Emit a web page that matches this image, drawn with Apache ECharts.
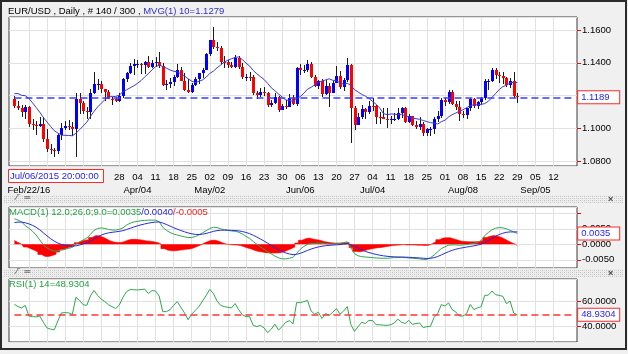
<!DOCTYPE html>
<html>
<head>
<meta charset="utf-8">
<script src="https://cdn.jsdelivr.net/npm/echarts@6/dist/echarts.min.js"></script>
<style>
html,body{margin:0;padding:0;background:#ffffff;}
#chart{width:628px;height:354px;}
</style>
</head>
<body>
<div id="chart"></div>
<script>
// ---------- categories (trading days, MM/DD 2016) ----------
const categories = [
'02/15','02/16','02/17','02/18','02/19','02/22','02/23','02/24','02/25','02/26',
'02/29','03/01','03/02','03/03','03/04','03/07','03/08','03/09','03/10','03/11',
'03/14','03/15','03/16','03/17','03/18','03/21','03/22','03/23','03/24','03/25',
'03/28','03/29','03/30','03/31','04/01','04/04','04/05','04/06','04/07','04/08',
'04/11','04/12','04/13','04/14','04/15','04/18','04/19','04/20','04/21','04/22',
'04/25','04/26','04/27','04/28','04/29','05/02','05/03','05/04','05/05','05/06',
'05/09','05/10','05/11','05/12','05/13','05/16','05/17','05/18','05/19','05/20',
'05/23','05/24','05/25','05/26','05/27','05/30','05/31','06/01','06/02','06/03',
'06/06','06/07','06/08','06/09','06/10','06/13','06/14','06/15','06/16','06/17',
'06/20','06/21','06/22','06/23','06/24','06/27','06/28','06/29','06/30','07/01',
'07/04','07/05','07/06','07/07','07/08','07/11','07/12','07/13','07/14','07/15',
'07/18','07/19','07/20','07/21','07/22','07/25','07/26','07/27','07/28','07/29',
'08/01','08/02','08/03','08/04','08/05','08/08','08/09','08/10','08/11','08/12',
'08/15','08/16','08/17','08/18','08/19','08/22','08/23','08/24','08/25','08/26',
'08/29','08/30','08/31','09/01','09/02','09/05','09/06','09/07','09/08','09/09',
'09/12','09/13','09/14','09/15','09/16','09/19','09/20'];
const firstBar = '02/16';

// ---------- tick labels ----------
const gridLineDates = ['02/22','02/29','03/07','03/14','03/21','03/28','04/04','04/11','04/18','04/25',
'05/02','05/09','05/16','05/23','05/30','06/06','06/13','06/20','06/27','07/04','07/11','07/18',
'07/25','08/01','08/08','08/15','08/22','08/29','09/05','09/12'];
const dayTickDates = ['03/28','04/04','04/11','04/18','04/25','05/02','05/09','05/16','05/23','05/30',
'06/06','06/13','06/20','06/27','07/04','07/11','07/18','07/25','08/01','08/08','08/15','08/22',
'08/29','09/05','09/12'];
const monthTickDates = ['02/22','04/04','05/02','06/06','07/04','08/08','09/05'];
const monthTickText  = ['Feb/22/16','Apr/04','May/02','Jun/06','Jul/04','Aug/08','Sep/05'];

// ---------- EUR/USD daily OHLC ----------
const open = [
1.1180,1.1135,1.1123,1.1100,1.1130,1.1025,1.1017,1.1013,1.1025,1.0934,
1.0873,1.0869,1.0863,1.0956,1.1004,1.1012,1.1006,1.0995,1.1178,1.1152,
1.1106,1.1098,1.1215,1.1268,1.1270,1.1240,1.1219,1.1181,1.1178,1.1166,
1.1198,1.1298,1.1336,1.1379,1.1390,1.1391,1.1388,1.1405,1.1374,1.1397,
1.1405,1.1383,1.1265,1.1268,1.1285,1.1313,1.1355,1.1288,1.1231,1.1224,
1.1264,1.1299,1.1340,1.1354,1.1453,1.1537,1.1495,1.1490,1.1405,1.1404,
1.1385,1.1377,1.1428,1.1372,1.1310,1.1316,1.1315,1.1216,1.1204,1.1224,
1.1214,1.1141,1.1157,1.1192,1.1114,1.1134,1.1130,1.1186,1.1151,1.1367,
1.1356,1.1357,1.1394,1.1315,1.1255,1.1288,1.1211,1.1259,1.1218,1.1277,
1.1317,1.1249,1.1292,1.1385,1.1125,1.1022,1.1068,1.1118,1.1102,1.1138,
1.1136,1.1069,1.1067,1.1058,1.1051,1.1058,1.1059,1.1092,1.1124,1.1039,
1.1072,1.1021,1.1007,1.1026,1.0974,1.0993,1.0996,1.1059,1.1075,1.1174,
1.1160,1.1223,1.1150,1.1127,1.1086,1.1083,1.1123,1.1178,1.1136,1.1161,
1.1182,1.1287,1.1290,1.1354,1.1324,1.1321,1.1306,1.1262,1.1286,1.1198];
const high = [
1.1195,1.1166,1.1143,1.1140,1.1135,1.1055,1.1045,1.1068,1.1071,1.0994,
1.0904,1.0882,1.0965,1.1031,1.1047,1.1048,1.1039,1.1218,1.1217,1.1166,
1.1131,1.1241,1.1342,1.1299,1.1288,1.1242,1.1232,1.1188,1.1190,1.1213,
1.1305,1.1344,1.1400,1.1422,1.1418,1.1397,1.1409,1.1439,1.1414,1.1438,
1.1465,1.1396,1.1296,1.1306,1.1325,1.1392,1.1375,1.1339,1.1299,1.1275,
1.1314,1.1340,1.1371,1.1458,1.1540,1.1616,1.1525,1.1500,1.1444,1.1415,
1.1405,1.1445,1.1440,1.1399,1.1330,1.1346,1.1326,1.1229,1.1243,1.1249,
1.1224,1.1175,1.1217,1.1200,1.1147,1.1171,1.1209,1.1202,1.1373,1.1395,
1.1385,1.1416,1.1404,1.1328,1.1297,1.1298,1.1297,1.1274,1.1287,1.1378,
1.1347,1.1305,1.1427,1.1390,1.1133,1.1091,1.1143,1.1125,1.1165,1.1185,
1.1140,1.1100,1.1121,1.1121,1.1073,1.1093,1.1121,1.1132,1.1132,1.1085,
1.1074,1.1043,1.1066,1.1039,1.1001,1.1009,1.1068,1.1103,1.1187,1.1187,
1.1236,1.1234,1.1166,1.1165,1.1107,1.1124,1.1186,1.1185,1.1167,1.1191,
1.1300,1.1303,1.1366,1.1368,1.1342,1.1341,1.1313,1.1305,1.1342,1.1215];
const low = [
1.1122,1.1110,1.1070,1.1058,1.1007,1.0988,1.0960,1.1005,1.0916,1.0858,
1.0841,1.0823,1.0844,1.0927,1.0991,1.0990,1.0953,1.0822,1.1084,1.1086,
1.1057,1.1057,1.1212,1.1233,1.1218,1.1166,1.1177,1.1144,1.1160,1.1160,
1.1183,1.1280,1.1329,1.1328,1.1370,1.1330,1.1334,1.1365,1.1370,1.1373,
1.1370,1.1255,1.1234,1.1246,1.1255,1.1304,1.1286,1.1230,1.1216,1.1216,
1.1255,1.1270,1.1306,1.1353,1.1440,1.1485,1.1470,1.1395,1.1365,1.1370,
1.1367,1.1368,1.1363,1.1302,1.1290,1.1290,1.1205,1.1180,1.1193,1.1200,
1.1128,1.1130,1.1147,1.1097,1.1109,1.1117,1.1130,1.1139,1.1133,1.1326,
1.1340,1.1345,1.1304,1.1250,1.1238,1.1191,1.1202,1.1131,1.1215,1.1276,
1.1242,1.1230,1.1280,1.0912,1.0988,1.1018,1.1055,1.1058,1.1086,1.1107,
1.1028,1.1029,1.1054,1.1000,1.1025,1.1045,1.1052,1.1060,1.1031,1.1034,
1.1012,1.0996,1.0991,1.0952,1.0954,1.0952,1.0962,1.1041,1.1064,1.1138,
1.1148,1.1142,1.1110,1.1045,1.1061,1.1058,1.1106,1.1124,1.1116,1.1151,
1.1172,1.1234,1.1283,1.1303,1.1278,1.1271,1.1251,1.1247,1.1186,1.1152];
const close = [
1.1135,1.1123,1.1100,1.1130,1.1025,1.1017,1.1013,1.1025,1.0934,1.0873,
1.0869,1.0863,1.0956,1.1004,1.1012,1.1006,1.0995,1.1178,1.1152,1.1106,
1.1098,1.1215,1.1268,1.1270,1.1240,1.1219,1.1181,1.1178,1.1166,1.1198,
1.1298,1.1336,1.1379,1.1390,1.1391,1.1388,1.1405,1.1374,1.1397,1.1405,
1.1383,1.1265,1.1268,1.1285,1.1313,1.1355,1.1288,1.1231,1.1224,1.1264,
1.1299,1.1340,1.1354,1.1453,1.1537,1.1495,1.1490,1.1405,1.1404,1.1385,
1.1377,1.1428,1.1372,1.1310,1.1316,1.1315,1.1216,1.1204,1.1224,1.1214,
1.1141,1.1157,1.1192,1.1114,1.1134,1.1130,1.1186,1.1151,1.1367,1.1356,
1.1357,1.1394,1.1315,1.1255,1.1288,1.1211,1.1259,1.1218,1.1277,1.1317,
1.1249,1.1292,1.1385,1.1125,1.1022,1.1068,1.1118,1.1102,1.1138,1.1136,
1.1069,1.1067,1.1058,1.1051,1.1058,1.1059,1.1092,1.1124,1.1039,1.1072,
1.1021,1.1007,1.1026,1.0974,1.0993,1.0996,1.1059,1.1075,1.1174,1.1160,
1.1223,1.1150,1.1127,1.1086,1.1083,1.1123,1.1178,1.1136,1.1161,1.1182,
1.1287,1.1290,1.1354,1.1324,1.1321,1.1306,1.1262,1.1286,1.1198,1.1189];

// ---------- MVG(1) 10 ----------
const ma10 = [
1.1211,1.1212,1.1201,1.1199,1.1182,1.1155,1.1127,1.1098,1.1066,1.1038,
1.1011,1.0985,1.0971,1.0958,1.0957,1.0956,1.0954,1.0969,1.0991,1.1014,
1.1037,1.1072,1.1103,1.1130,1.1153,1.1174,1.1193,1.1193,1.1194,1.1203,
1.1223,1.1235,1.1247,1.1259,1.1274,1.1291,1.1313,1.1333,1.1356,1.1376,
1.1385,1.1378,1.1367,1.1356,1.1348,1.1345,1.1333,1.1319,1.1302,1.1288,
1.1279,1.1287,1.1295,1.1312,1.1335,1.1349,1.1369,1.1386,1.1404,1.1416,
1.1424,1.1433,1.1435,1.1420,1.1398,1.1380,1.1353,1.1333,1.1315,1.1298,
1.1274,1.1247,1.1229,1.1209,1.1191,1.1173,1.1170,1.1164,1.1179,1.1193,
1.1214,1.1238,1.1250,1.1265,1.1280,1.1288,1.1295,1.1302,1.1293,1.1289,
1.1278,1.1268,1.1275,1.1262,1.1236,1.1221,1.1207,1.1196,1.1182,1.1164,
1.1146,1.1123,1.1090,1.1083,1.1087,1.1086,1.1083,1.1085,1.1075,1.1069,
1.1064,1.1058,1.1055,1.1047,1.1041,1.1034,1.1031,1.1026,1.1040,1.1049,
1.1069,1.1083,1.1093,1.1104,1.1113,1.1126,1.1138,1.1144,1.1143,1.1145,
1.1151,1.1165,1.1188,1.1212,1.1236,1.1254,1.1262,1.1277,1.1281,1.1279];

// ---------- MACD(12,26,9), in units of 0.0001 ----------
const macdLine = [
82,78,72,60,52,42,30,14,-2,-12,
-18,-22,-21,-18,-16,-13,-10,0,8,14,
20,32,45,51,53,51,48,46,46,48,
53,62,68,72,74,76,77,78,78,78,
73,55,45,38,33,30,27,24,22,22,
25,30,37,44,51,55,54,50,47,45,
43,42,39,33,26,19,9,0,-8,-16,
-24,-31,-38,-44,-47,-47,-45,-42,-29,-16,
-7,0,2,3,4,3,2,1,1,2,
3,5,8,-12,-30,-37,-40,-41,-42,-43,
-44,-45,-45,-45,-44,-43,-43,-42,-43,-44,
-45,-46,-47,-49,-49,-43,-35,-24,-14,-8,
-3,-2,-2,-3,-2,-1,1,3,6,12,
28,38,47,52,54,53,50,45,40,35];
const signalLine = [
70,71.6,71.7,69.4,65.9,61.1,54.9,46.7,37.0,27.2,
18.2,10.2,4.0,-0.4,-3.5,-5.4,-6.3,-5.0,-2.4,0.9,
4.7,10.2,17.2,24.0,29.8,34.0,36.8,38.6,40.1,41.7,
44.0,47.6,51.7,55.8,59.4,62.7,65.6,68.1,70.1,71.7,
72.0,68.6,63.9,58.7,53.6,48.9,44.5,40.4,36.7,33.8,
32.0,31.6,32.7,35.0,38.2,41.6,44.1,45.3,45.6,45.5,
45.0,44.4,43.3,41.2,38.2,34.4,29.3,23.4,17.1,10.5,
3.6,-3.3,-10.2,-17.0,-23.0,-27.8,-31.2,-33.4,-32.5,-29.2,
-24.8,-19.8,-15.4,-11.7,-8.6,-6.3,-4.6,-3.5,-2.6,-1.7,
-0.8,0.4,1.9,-0.9,-6.7,-12.8,-18.2,-22.8,-26.6,-29.9,
-32.7,-35.2,-37.2,-38.7,-39.8,-40.4,-40.9,-41.1,-41.5,-42.0,
-42.6,-43.3,-44.0,-45.0,-45.8,-45.2,-43.2,-39.4,-34.3,-29.0,
-23.8,-19.4,-15.9,-13.3,-11.0,-9.0,-7.0,-5.0,-2.8,0.2,
5.8,12.2,19.2,25.8,31.4,35.7,38.6,39.9,39.9,40];
const macdHist = [
12,6,0,-9,-14,-19,-25,-33,-39,-39,
-36,-32,-25,-18,-13,-8,-4,5,10,13,
15,22,28,27,23,17,11,7,6,6,
9,14,16,16,15,13,11,10,8,6,
1,-14,-19,-21,-21,-19,-18,-16,-15,-12,
-7,-2,4,9,13,13,10,5,1,-1,
-2,-2,-4,-8,-12,-15,-20,-23,-25,-27,
-28,-28,-28,-27,-24,-19,-14,-9,4,13,
18,20,17,15,13,9,7,5,4,4,
4,5,6,-11,-23,-24,-22,-18,-15,-13,
-11,-10,-8,-6,-4,-3,-2,-1,-2,-2,
-2,-3,-3,-4,-3,2,8,15,20,21,
21,17,14,10,9,8,8,8,9,12,
22,26,28,26,23,17,11,5,0,-5];

// ---------- RSI(14) ----------
const rsi14 = [
57.3,55.5,54.5,56.5,48,47.5,47.3,48,43,38.5,
37.5,37,44,50.5,50.7,50.5,49.3,62.9,60.5,57,
56.5,64,68.5,64.5,61.5,59.5,57,55.5,54,56.8,
63,67.5,69.3,69,68.8,69.2,69.5,66,68.3,68,
64,51.5,51.5,53,56.5,59.5,55,50.5,45,49.5,
52.5,55.5,60,64.5,69.3,66,60,56.5,55.5,55,
54.5,58,53,49,47.5,47.5,40.5,39.5,40.5,38.5,
34.7,37.5,41.5,36.8,39.5,43,44.3,41.6,58.7,58.7,
59.5,60.5,52,49.5,51,46,50,48.5,51,54,
49.5,52,55.5,41,35.7,39.5,43,42,44.5,44.3,
41,41,40.7,40.5,41,42.4,45.5,43,42,44.5,
41.3,42,42.4,38.7,39.5,39.7,47,50,57.1,56,
58.4,53.1,51.2,48,48,50,57.3,53.1,54.5,55.5,
64.5,64.7,68,65,64.5,63.7,57.9,60,50.4,48.9304];

// ---------- build ----------
const FONT = "'Liberation Sans', Arial, sans-serif";
const FS = 9.5;
const n = close.length;
const off = categories.indexOf(firstBar);
const lastIdx = categories.length - 1;
const candleData = close.map((c, k) => [k + off, open[k], c, low[k], high[k]]);
const pair = arr => arr.map((v, k) => [k + off, v]);
const lastClose = close[n - 1];
const lastMacd = macdLine[n - 1], lastSig = signalLine[n - 1], lastHist = macdHist[n - 1];
const lastRsi = rsi14[n - 1];
const pip = v => (v / 10000).toFixed(4);

const gridLineCol = '#e1e1e1';
function xAxis(gridIndex, extra) {
  return Object.assign({
    type: 'category', gridIndex, data: categories, boundaryGap: true,
    axisLine: {show: false}, axisTick: {show: false},
    axisLabel: {show: false},
    splitLine: {show: true, alignWithLabel: true,
      interval: (i, v) => gridLineDates.indexOf(v) >= 0,
      lineStyle: {color: gridLineCol, width: 1}}
  }, extra || {});
}
function yAxis(gridIndex, min, max, splitNumber, fmt) {
  return {
    type: 'value', gridIndex, position: 'right', min, max, splitNumber,
    axisLine: {show: false},
    axisTick: {show: true, length: 4, lineStyle: {color: '#ff0000', width: 1}},
    axisLabel: {formatter: fmt, showMinLabel: false, showMaxLabel: false, margin: 5,
      color: '#000', fontSize: FS, fontFamily: FONT},
    splitLine: {show: true, lineStyle: {color: gridLineCol, width: 1}}
  };
}
const boxLabel = (txt) => ({
  show: true, position: 'end', distance: 3, formatter: txt,
  color: '#1c1cff', fontSize: FS, fontFamily: FONT,
  backgroundColor: '#ffffff', borderColor: '#ff2a2a', borderWidth: 1,
  padding: [1, 2, 0, 3], width: 36, lineHeight: 11, align: 'left'
});

// hatched separator pattern
const hc = document.createElement('canvas'); hc.width = 4; hc.height = 4;
const hx = hc.getContext('2d');
hx.fillStyle = '#ededed'; hx.fillRect(0, 0, 4, 4);
hx.fillStyle = '#c2c2c2'; hx.fillRect(0, 0, 1, 1); hx.fillRect(2, 2, 1, 1);
hx.fillStyle = '#d6d6d6'; hx.fillRect(2, 0, 1, 1); hx.fillRect(0, 2, 1, 1);

const chart = echarts.init(document.getElementById('chart'), null, {renderer: 'canvas'});
const option = {
  animation: false,
  backgroundColor: '#f0f0f0',
  textStyle: {fontFamily: FONT},
  title: [
    {left: 8, top: 6, padding: 0,
     text: `{k|EUR/USD , Daily , # ${n} / 300 ,} {b|MVG(1) 10=${ma10[n - 1].toFixed(4)}}`,
     textStyle: {fontSize: FS, fontWeight: 'normal', rich: {
       k: {color: '#000', fontSize: FS, fontFamily: FONT},
       b: {color: '#3131c9', fontSize: FS, fontFamily: FONT}}}},
    {left: 9, top: 207, padding: 0,
     text: `{g|MACD(1) 12.0;26.0;9.0=${pip(lastMacd)}}{b|/${pip(lastSig)}}{r|/${pip(lastHist)}}`,
     textStyle: {fontSize: FS, fontWeight: 'normal', rich: {
       g: {color: '#24a043', fontSize: FS, fontFamily: FONT},
       b: {color: '#2323e6', fontSize: FS, fontFamily: FONT},
       r: {color: '#ff2020', fontSize: FS, fontFamily: FONT}}}},
    {left: 9, top: 279, padding: 0,
     text: `RSI(1) 14=${lastRsi.toFixed(4)}`,
     textStyle: {fontSize: FS, fontWeight: 'normal', color: '#24a043', fontFamily: FONT}},
    {left: 8, top: 169, padding: [2, 5, 1, 2],
     backgroundColor: '#ffffff', borderColor: '#ff2a2a', borderWidth: 1,
     text: 'Jul/06/2015 20:00:00',
     textStyle: {fontSize: FS, fontWeight: 'normal', color: '#2020ff', fontFamily: FONT, lineHeight: 11}}
  ],
  grid: [
    {left: 9, right: 51, top: 17, height: 149, show: true, backgroundColor: '#fff', borderColor: '#3a3a3a', borderWidth: 1},
    {left: 9, right: 51, top: 207, height: 61, show: true, backgroundColor: '#fff', borderColor: '#3a3a3a', borderWidth: 1},
    {left: 9, right: 51, top: 279, height: 63, show: true, backgroundColor: '#fff', borderColor: '#3a3a3a', borderWidth: 1}
  ],
  xAxis: [
    xAxis(0, {axisLabel: {show: true, interval: (i, v) => dayTickDates.indexOf(v) >= 0,
      formatter: v => v.slice(3), margin: 6, color: '#000', fontSize: FS, fontFamily: FONT}}),
    xAxis(0, {position: 'bottom', offset: 13, splitLine: {show: false},
      axisLabel: {show: true, interval: (i, v) => monthTickDates.indexOf(v) >= 0,
      formatter: v => monthTickText[monthTickDates.indexOf(v)], margin: 6,
      color: '#000', fontSize: FS, fontFamily: FONT}}),
    xAxis(1),
    xAxis(2)
  ],
  yAxis: [
    yAxis(0, 1.07695, 1.16794, 4, v => v.toFixed(4)),
    yAxis(1, -76.5, 120.3, 4, v => (Math.abs(v - 100) < 1e-6 ? '' : pip(v))),
    yAxis(2, 27.2, 77.6, 3, v => v.toFixed(4))
  ],
  series: [
    {
      type: 'custom', name: 'EUR/USD', xAxisIndex: 0, yAxisIndex: 0,
      encode: {x: 0, y: [1, 2, 3, 4]}, data: candleData, z: 3,
      renderItem: (params, api) => {
        const x = api.value(0);
        const o = api.value(1), c = api.value(2), l = api.value(3), h = api.value(4);
        const pO = api.coord([x, o]), pC = api.coord([x, c]);
        const pL = api.coord([x, l]), pH = api.coord([x, h]);
        const cx = Math.round(pO[0]);
        const top = Math.round(Math.min(pO[1], pC[1]));
        const bot = Math.round(Math.max(pO[1], pC[1]));
        return {type: 'group', children: [
          {type: 'line', shape: {x1: cx + 0.5, y1: Math.round(pH[1]), x2: cx + 0.5, y2: Math.round(pL[1])},
           style: {stroke: '#1a1a1a', lineWidth: 1}},
          {type: 'rect', shape: {x: cx - 1, y: top, width: 3, height: Math.max(1, bot - top)},
           style: {fill: c >= o ? '#0000ff' : '#ff0000'}}
        ]};
      }
    },
    {
      type: 'line', name: 'MVG', xAxisIndex: 0, yAxisIndex: 0, data: pair(ma10),
      showSymbol: false, symbol: 'none', z: 4,
      lineStyle: {color: '#3a3ad6', width: 1},
      markLine: {silent: true, symbol: ['none', 'none'], animation: false,
        data: [[{xAxis: off, yAxis: lastClose}, {xAxis: lastIdx, yAxis: lastClose}]],
        lineStyle: {color: '#3c3cff', type: [7, 4], width: 1.5},
        label: boxLabel(lastClose.toFixed(4))}
    },
    {
      type: 'line', name: 'Hist', xAxisIndex: 2, yAxisIndex: 1, data: pair(macdHist),
      step: 'middle', symbol: 'none', z: 2,
      lineStyle: {color: '#ff0000', width: 0.6},
      areaStyle: {color: '#ff0000', opacity: 1, origin: 0}
    },
    {
      type: 'line', name: 'MACD', xAxisIndex: 2, yAxisIndex: 1, data: pair(macdLine),
      symbol: 'none', z: 4, lineStyle: {color: '#2fa84f', width: 1},
      markLine: {silent: true, symbol: ['none', 'none'], animation: false,
        data: [[{xAxis: off, yAxis: lastMacd}, {xAxis: lastIdx, yAxis: lastMacd}]],
        lineStyle: {color: 'rgba(0,0,0,0)', width: 1},
        label: boxLabel(pip(lastMacd))}
    },
    {
      type: 'line', name: 'Signal', xAxisIndex: 2, yAxisIndex: 1, data: pair(signalLine),
      symbol: 'none', z: 4, lineStyle: {color: '#2a2adc', width: 1}
    },
    {
      type: 'line', name: 'RSI', xAxisIndex: 3, yAxisIndex: 2, data: pair(rsi14),
      symbol: 'none', z: 4, lineStyle: {color: '#2fa84f', width: 1},
      markLine: {silent: true, symbol: ['none', 'none'], animation: false,
        data: [[{xAxis: off, yAxis: lastRsi}, {xAxis: lastIdx, yAxis: lastRsi}]],
        lineStyle: {color: '#ff3535', type: [7, 4], width: 1.5},
        label: boxLabel(lastRsi.toFixed(4))}
    }
  ],
  graphic: [
    {type: 'rect', silent: true, z: -1, shape: {x: 4, y: 195, width: 619, height: 8},
     style: {fill: {image: hc, repeat: 'repeat'}}},
    {type: 'rect', silent: true, z: -1, shape: {x: 4, y: 269, width: 619, height: 8},
     style: {fill: {image: hc, repeat: 'repeat'}}},
    {type: 'text', silent: true, z: 10, left: 16, top: 194, style: {text: '⁄‾  ═', fill: '#333', font: '8px ' + FONT}},
    {type: 'text', silent: true, z: 10, left: 16, top: 268, style: {text: '⁄‾  ═', fill: '#333', font: '8px ' + FONT}},
    {type: 'text', silent: true, z: 10, left: 608, top: 195, style: {text: '×', fill: '#444', font: 'bold 9px ' + FONT}},
    {type: 'text', silent: true, z: 10, left: 608, top: 269, style: {text: '×', fill: '#444', font: 'bold 9px ' + FONT}},
    {type: 'rect', silent: true, z: 100, shape: {x: 1, y: 1, width: 625, height: 348},
     style: {fill: 'none', stroke: '#2b2b2b', lineWidth: 2}}
  ]
};
chart.setOption(option);
</script>
</body>
</html>
